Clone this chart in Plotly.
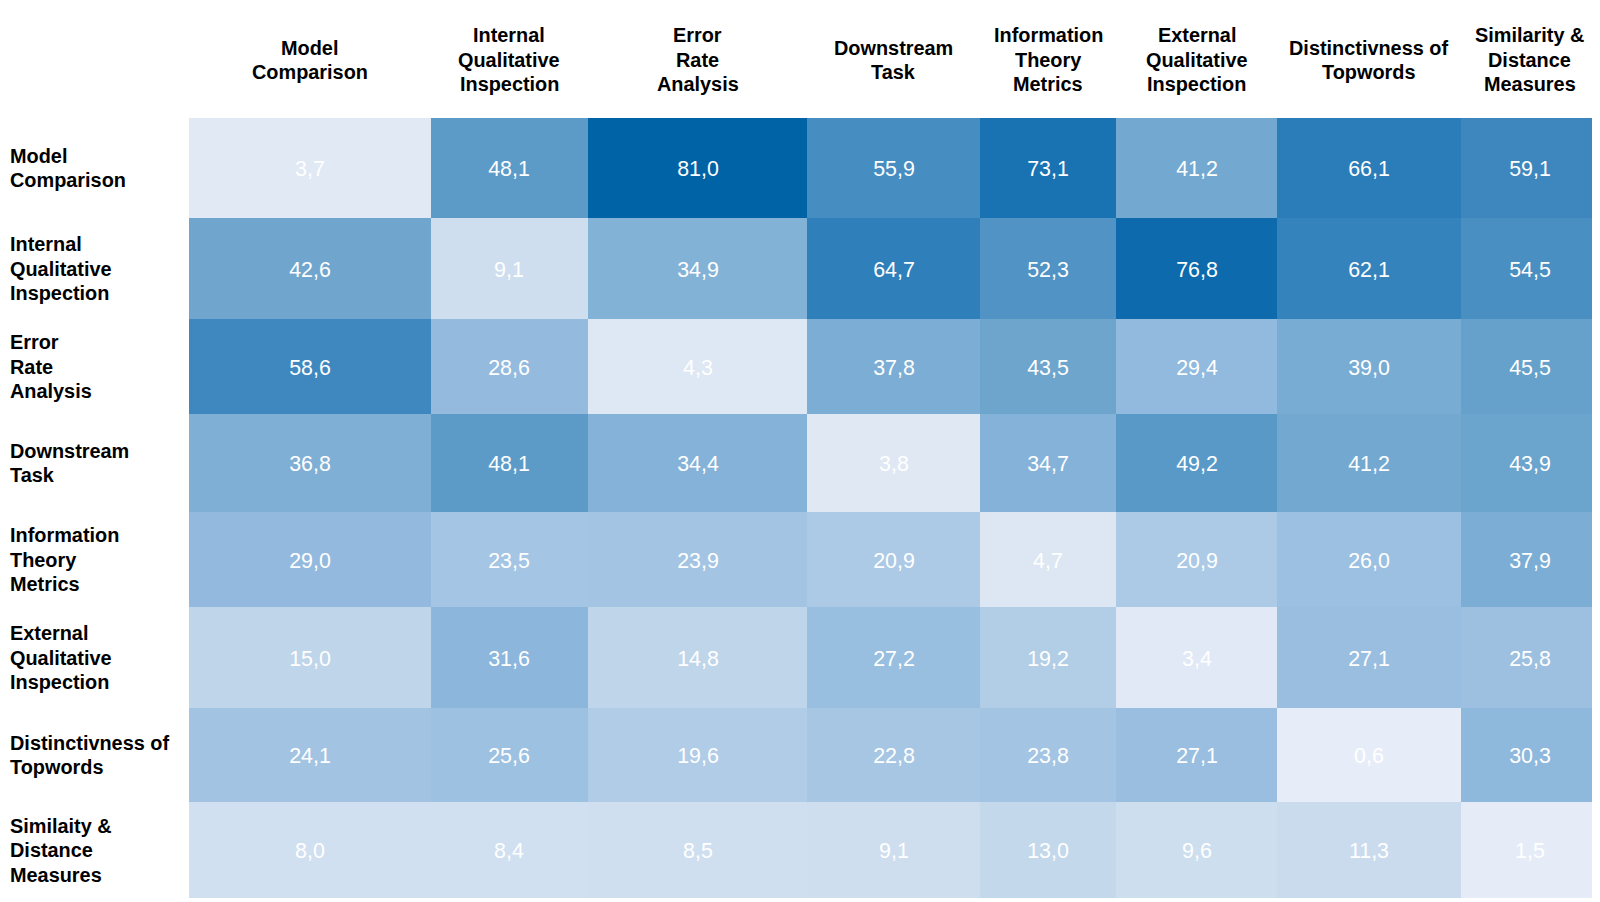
import plotly.graph_objects as go
import numpy as np

# categories (same order for rows and columns)
col_labels = ["Model<br>Comparison", "Internal<br>Qualitative<br>Inspection", "Error<br>Rate<br>Analysis",
              "Downstream<br>Task", "Information<br>Theory<br>Metrics", "External<br>Qualitative<br>Inspection",
              "Distinctivness of<br>Topwords", "Similarity &<br>Distance<br>Measures"]
row_labels = ["Model<br>Comparison", "Internal<br>Qualitative<br>Inspection", "Error<br>Rate<br>Analysis",
              "Downstream<br>Task", "Information<br>Theory<br>Metrics", "External<br>Qualitative<br>Inspection",
              "Distinctivness of<br>Topwords", "Similaity &<br>Distance<br>Measures"]

# cell values, one list per row
mc  = [3.7, 48.1, 81.0, 55.9, 73.1, 41.2, 66.1, 59.1]
iqi = [42.6, 9.1, 34.9, 64.7, 52.3, 76.8, 62.1, 54.5]
era = [58.6, 28.6, 4.3, 37.8, 43.5, 29.4, 39.0, 45.5]
dt  = [36.8, 48.1, 34.4, 3.8, 34.7, 49.2, 41.2, 43.9]
itm = [29.0, 23.5, 23.9, 20.9, 4.7, 20.9, 26.0, 37.9]
eqi = [15.0, 31.6, 14.8, 27.2, 19.2, 3.4, 27.1, 25.8]
dot = [24.1, 25.6, 19.6, 22.8, 23.8, 27.1, 0.6, 30.3]
sdm = [8.0, 8.4, 8.5, 9.1, 13.0, 9.6, 11.3, 1.5]

# layout: cell sizes (px in the reference picture)
col_w = [237, 154, 215, 169, 134, 157, 181, 134]
row_h = [98, 99, 93, 96, 93, 99, 92, 94]

z = np.array([mc, iqi, era, dt, itm, eqi, dot, sdm])
txt = [[f"{v:.1f}".replace(".", ",") for v in r] for r in z]

xe = np.concatenate([[0], np.cumsum(col_w)])
ye = np.concatenate([[0], np.cumsum(row_h)])
xc = (xe[:-1] + xe[1:]) / 2
yc = (ye[:-1] + ye[1:]) / 2

cs = [[0.0, "#e8eef9"], [0.05, "#dfe8f4"], [0.1, "#d1e0f0"], [0.185, "#bfd5ea"],
      [0.36, "#92bade"], [0.53, "#6fa6ce"], [0.59, "#5d9cc8"], [0.72, "#3f88bf"],
      [0.9, "#1a73b3"], [1.0, "#0063a6"]]

# the screenshot comes out ~0.98 of page size, page has 8px body margin
k = 1 / 0.98
W, H = 1610, 900
L = 185 * k - 8
T = 116 * k - 8
pw, ph = xe[-1], ye[-1]

fig = go.Figure(go.Heatmap(
    z=z, x=xe, y=ye, text=txt, texttemplate="%{text}",
    textfont=dict(family="Liberation Sans, Arial", size=21 * k, color="white"),
    colorscale=cs, zmin=0, zmax=81, showscale=False, xgap=0, ygap=0,
    hoverinfo="skip",
))

lab_font = dict(family="Liberation Sans, Arial", size=19.5 * k, color="black")
lh = 24  # line spacing
for i, lab in enumerate(col_labels):
    lines = lab.split("<br>")
    n = len(lines)
    for j, ln in enumerate(lines):
        yy = -57 + (j - (n - 1) / 2) * lh
        fig.add_annotation(x=xc[i] / pw, y=1 - yy / ph, xref="paper", yref="paper", text="<b>" + ln + "</b>",
                           showarrow=False, font=lab_font, xanchor="center", yanchor="middle")
for i, lab in enumerate(row_labels):
    lines = lab.split("<br>")
    n = len(lines)
    for j, ln in enumerate(lines):
        yy = yc[i] + (j - (n - 1) / 2) * lh
        fig.add_annotation(x=-L / (pw * k), y=1 - yy / ph, xref="paper", yref="paper", text="<b>" + ln + "</b>",
                           showarrow=False, font=lab_font, xanchor="left", yanchor="middle")

fig.update_xaxes(range=[0, pw], visible=False, fixedrange=True)
fig.update_yaxes(range=[ph, 0], visible=False, fixedrange=True)
fig.update_layout(width=W, height=H, margin=dict(l=L, r=W - L - pw * k, t=T, b=H - T - ph * k, pad=0),
                  plot_bgcolor="white", paper_bgcolor="white")
fig.write_html("out.html")
